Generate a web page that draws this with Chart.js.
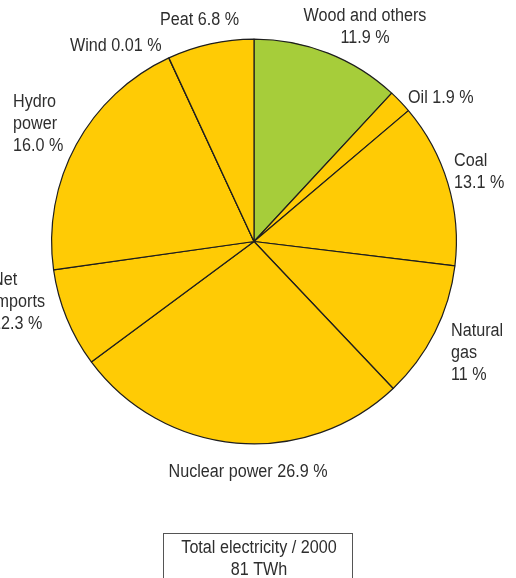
<!DOCTYPE html>
<html lang="en">
<head>
    <meta charset="UTF-8">
    <title>Total electricity 2000</title>
    <script src="https://cdn.jsdelivr.net/npm/chart.js@4.4.1/dist/chart.umd.min.js"></script>
    <style>
        body { margin: 0; background: #fff; }
    </style>
</head>
<body>
    <canvas id="chart" width="516" height="578"></canvas>
    <script>
        // slices go clockwise from 12 o'clock
        const categories = ['Wood and others', 'Oil', 'Coal', 'Natural gas', 'Nuclear power', 'Net imports', 'Hydro power', 'Wind', 'Peat'];
        // slice sizes as drawn in the picture
        const shares = [11.9, 1.9, 13.1, 11, 26.9, 7.9, 20.3, 0.01, 6.9];
        // percentages as printed on the labels
        const shareLabels = ['11.9 %', '1.9 %', '13.1 %', '11 %', '26.9 %', '12.3 %', '16.0 %', '0.01 %', '6.8 %'];
        const totalLines = ['Total electricity / 2000', '81 TWh'];

        const YELLOW = '#ffcb05';
        const GREEN = '#a6cd3a';
        const sliceColors = categories.map(c => c === 'Wood and others' ? GREEN : YELLOW);

        // no narrow font installed, so squeeze Liberation Sans sideways
        const FONT = '18px "Liberation Sans", Arial, sans-serif';
        const TEXT = '#2e2e2e';
        const LINE_H = 22;
        const NARROW_REF = ['Nuclear power 26.9 %', 159];

        // where each label sits; mode: inline = one line, two = name / pct, split = each word / pct
        const labelLayout = [
            { x: 365, y: 16, align: 'center', mode: 'two' },
            { x: 408, y: 98, align: 'left', mode: 'inline' },
            { x: 454, y: 161, align: 'left', mode: 'two' },
            { x: 451, y: 331, align: 'left', mode: 'split' },
            { x: 248, y: 472, align: 'center', mode: 'inline' },
            { x: -8, y: 280, align: 'left', mode: 'split' },
            { x: 13, y: 102, align: 'left', mode: 'split' },
            { x: 70, y: 46, align: 'left', mode: 'inline' },
            { x: 160, y: 20, align: 'left', mode: 'inline' }
        ];

        function linesFor(i) {
            const mode = labelLayout[i].mode;
            if (mode === 'inline') return [categories[i] + ' ' + shareLabels[i]];
            if (mode === 'two') return [categories[i], shareLabels[i]];
            return categories[i].split(' ').concat([shareLabels[i]]);
        }

        function narrowText(ctx, sx, text, x, y) {
            ctx.save();
            ctx.translate(x, y);
            ctx.scale(sx, 1);
            ctx.fillText(text, 0, 0);
            ctx.restore();
        }

        const labelPlugin = {
            id: 'labels',
            afterDraw(chart) {
                const ctx = chart.ctx;
                ctx.save();
                ctx.font = FONT;
                ctx.fillStyle = TEXT;
                ctx.textBaseline = 'middle';
                const sx = NARROW_REF[1] / ctx.measureText(NARROW_REF[0]).width;
                labelLayout.forEach((pos, i) => {
                    ctx.textAlign = pos.align;
                    linesFor(i).forEach((line, k) => {
                        narrowText(ctx, sx, line, pos.x, pos.y + k * LINE_H);
                    });
                });

                // total box at the bottom
                ctx.strokeStyle = '#555';
                ctx.lineWidth = 1;
                ctx.strokeRect(163.5, 533.5, 189, 60);
                ctx.textAlign = 'center';
                totalLines.forEach((line, k) => {
                    narrowText(ctx, sx, line, 259, 548 + k * LINE_H);
                });
                ctx.restore();
            }
        };

        new Chart(document.getElementById('chart').getContext('2d'), {
            type: 'pie',
            data: {
                labels: categories,
                datasets: [{
                    data: shares,
                    backgroundColor: sliceColors,
                    borderColor: '#1e1e1e',
                    borderWidth: 1.2
                }]
            },
            options: {
                responsive: false,
                animation: false,
                layout: {
                    padding: { left: 51, right: 59, top: 38.5, bottom: 133.5 }
                },
                plugins: {
                    legend: { display: false },
                    tooltip: { enabled: false }
                }
            },
            plugins: [labelPlugin]
        });
    </script>
</body>
</html>
